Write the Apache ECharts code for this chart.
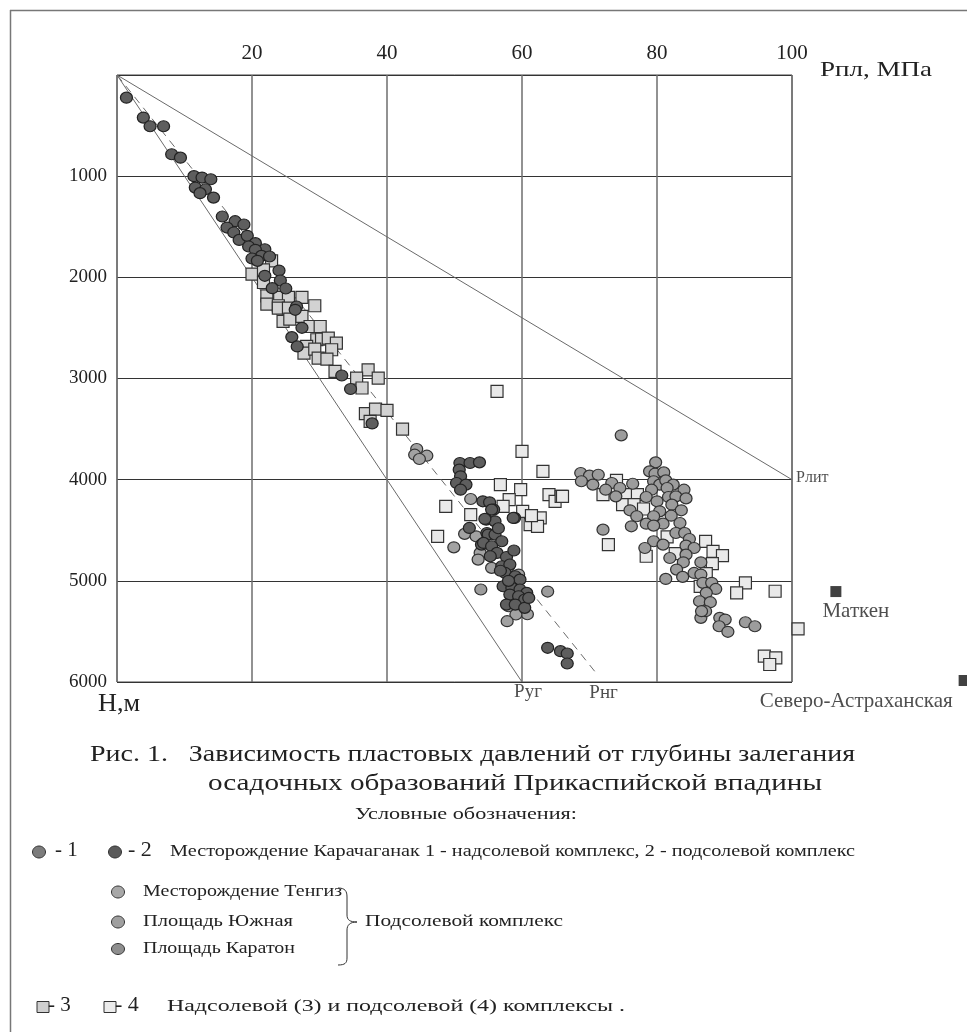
<!DOCTYPE html>
<html><head><meta charset="utf-8">
<script src="https://cdn.jsdelivr.net/npm/echarts@6.0.0/dist/echarts.min.js"></script>
<style>html,body{margin:0;padding:0;background:#fff}#c{width:967px;height:1032px}</style>
</head><body><div id="c"></div>
<script>
// ---- axis ticks ----
const xTicks = [20, 40, 60, 80, 100];
const yTicks = [1000, 2000, 3000, 4000, 5000, 6000];

// ---- reference lines [P, H] ----
const lineRug = [[0, 0], [60, 6000]];
const lineRng = [[0, 0], [71.2, 5930]];
const lineRlit = [[0, 0], [100, 4000]];

// ---- Karachaganak 1 (надсолевой) ----
const karach1 = [[1.4,224],[3.9,421],[4.9,507],[6.9,507],[8.1,783],[9.4,817],[11.4,1000],[12.6,1014],[13.9,1030],[11.6,1113],[13.1,1129],[12.3,1168],[14.3,1212],[15.6,1399],[17.5,1445],[18.8,1478],[16.3,1508],[17.3,1557],[18.1,1630],[19.3,1590],[20.5,1662],[19.5,1695],[21.9,1722],[20.5,1728],[21.4,1788],[22.6,1794],[20.0,1814],[20.8,1837],[24.0,1933],[21.9,1985],[24.2,2031],[23.0,2107],[25.0,2110],[26.6,2288],[26.4,2321],[27.4,2499],[25.9,2591],[26.7,2683],[33.3,2970],[34.6,3104],[37.8,3444]];
// ---- Karachaganak 2 (подсолевой) ----
const karach2 = [[50.8,3835],[52.3,3835],[53.7,3829],[50.7,3901],[50.9,3967],[50.3,4033],[51.7,4049],[50.9,4099],[54.2,4214],[55.2,4224],[55.8,4296],[58.9,4378],[52.2,4477],[54.7,4395],[56.0,4412],[54.8,4527],[54.0,4642],[55.5,4296],[54.5,4388],[58.7,4378],[55.0,4543],[56.0,4543],[57.0,4609],[54.3,4625],[55.5,4658],[56.3,4724],[57.7,4764],[55.3,4757],[57.0,4856],[58.2,4839],[57.5,4922],[59.0,4955],[59.7,4988],[57.2,5054],[58.5,5070],[59.7,5086],[60.7,5119],[58.2,5136],[59.5,5152],[60.4,5185],[57.7,5235],[59.0,5235],[60.4,5267],[61.0,5169],[56.5,4480],[58.0,5000],[56.8,4900],[58.8,4700],[63.8,5662],[65.7,5695],[66.7,5718],[66.7,5817]];
// ---- Tengiz ----
const tengiz = [[68.7,3934],[70.0,3960],[71.3,3951],[68.8,4016],[70.5,4049],[73.3,4033],[72.4,4099],[74.5,4082],[76.4,4040],[73.9,4165],[79.8,3829],[78.9,3918],[79.7,3941],[81.0,3928],[79.5,4016],[80.4,4049],[81.3,4007],[82.4,4049],[79.2,4099],[81.5,4082],[84.0,4099],[78.4,4171],[80.0,4214],[81.7,4171],[82.8,4165],[84.3,4185],[82.2,4247],[80.4,4313],[83.6,4303],[76.0,4303],[77.0,4362],[79.5,4362],[82.1,4356],[78.4,4435],[76.2,4461],[80.9,4435],[83.4,4428],[79.5,4454],[82.8,4527],[84.1,4527],[84.8,4586],[79.5,4609],[80.9,4642],[78.2,4675],[84.3,4652],[85.5,4675],[84.3,4741],[81.9,4774],[83.9,4817],[86.5,4817],[82.9,4889],[85.5,4922],[83.8,4961],[86.5,4938],[81.3,4981],[86.8,5020],[88.1,5020],[88.7,5080],[87.3,5119],[86.3,5202],[87.9,5211],[87.2,5300],[86.6,5300]];
// ---- Yuzhnaya ----
const yuzhnaya = [[44.4,3697],[45.9,3763],[44.1,3753],[44.8,3796],[52.4,4191],[51.5,4536],[53.2,4560],[49.9,4669],[53.8,4724],[53.5,4790],[55.5,4872],[58.0,4862],[59.5,4938],[58.0,5251],[59.5,5267],[60.8,5330],[59.1,5333],[57.8,5399]];
// ---- Karaton ----
const karaton = [[74.7,3562],[72.0,4494],[53.9,5086],[63.8,5106],[86.5,5366],[89.3,5366],[90.1,5383],[89.2,5449],[90.5,5504],[93.1,5409],[94.5,5449]];
// ---- squares 3 (надсолевой) ----
const sq3 = [[20.0,1968],[22.9,1837],[21.7,1926],[21.7,2051],[22.2,2183],[24.1,2199],[25.4,2199],[27.4,2199],[29.3,2281],[22.2,2265],[23.9,2281],[23.9,2305],[25.4,2305],[24.6,2436],[25.6,2413],[27.4,2386],[28.6,2486],[30.1,2486],[29.6,2617],[30.3,2610],[31.3,2601],[32.5,2650],[31.8,2716],[28.1,2683],[27.7,2749],[29.3,2709],[29.8,2798],[31.1,2808],[32.3,2930],[37.2,2914],[35.5,2996],[38.7,2996],[36.3,3094],[36.8,3348],[38.3,3302],[40.0,3315],[37.5,3424],[42.3,3500]];
// ---- squares 4 (подсолевой) ----
const sq4 = [[56.3,3128],[60.0,3721],[63.1,3918],[56.8,4049],[59.8,4099],[58.1,4198],[57.2,4264],[48.7,4264],[52.4,4346],[60.1,4313],[64.0,4148],[64.9,4214],[65.8,4165],[62.7,4378],[61.2,4444],[62.3,4461],[47.5,4560],[61.4,4356],[72.0,4148],[72.8,4642],[74.0,4007],[75.4,4148],[77.1,4148],[74.9,4247],[76.6,4247],[78.0,4290],[66.0,4165],[78.4,4757],[81.5,4566],[82.7,4731],[87.2,4609],[88.3,4708],[89.7,4751],[88.2,4830],[87.3,4928],[86.4,5054],[93.1,5020],[91.8,5119],[97.5,5103],[100.9,5475],[95.9,5745],[97.6,5761],[96.7,5827]];
// ---- named fields outside the grid ----
const fieldNames = ['Маткен', 'Северо-Астраханская'];
const fieldPoints = [[106.5, 5106], [125.5, 5985]];

const SERIF = '"Liberation Serif", "Times New Roman", serif';
const measureCtx = document.createElement('canvas').getContext('2d');
function tw(text, size) { measureCtx.font = size + 'px ' + SERIF; return measureCtx.measureText(text).width; }
// text stretched to a given width (the original uses expanded letter spacing)
function stext(text, x, y, size, width) {
  const s = width ? width / tw(text, size) : 1;
  return { type: 'text', x: x, y: y, scaleX: s,
    style: { text: text, x: 0, y: 0, font: size + 'px ' + SERIF, fill: '#222', textAlign: 'left', textVerticalAlign: 'middle' } };
}
function circ(cx, cy, rx, ry, fill) {
  return { type: 'ellipse', shape: { cx: cx, cy: cy, rx: rx, ry: ry }, style: { fill: fill, stroke: '#333', lineWidth: 1 } };
}
function sq(cx, cy, w, h, fill) {
  return { type: 'rect', shape: { x: cx - w / 2, y: cy - h / 2, width: w, height: h }, style: { fill: fill, stroke: '#333', lineWidth: 1 } };
}
function bz(x1, y1, c1x, c1y, c2x, c2y, x2, y2) {
  return { type: 'bezierCurve', shape: { x1: x1, y1: y1, cpx1: c1x, cpy1: c1y, cpx2: c2x, cpy2: c2y, x2: x2, y2: y2 }, style: { fill: null, stroke: '#333', lineWidth: 1 } };
}
function ln(x1, y1, x2, y2, color, w) {
  return { type: 'line', shape: { x1: x1, y1: y1, x2: x2, y2: y2 }, style: { stroke: color || '#333', lineWidth: w || 1 } };
}

const circleDark = { color: '#5e5e5e', borderColor: '#222', borderWidth: 1.2 };
const circleLight = { color: '#9c9c9c', borderColor: '#333', borderWidth: 1.2 };

function scat(name, data, symbol, size, style) {
  return { name: name, type: 'scatter', data: data, symbol: symbol, symbolSize: size, clip: false,
    itemStyle: Object.assign({ opacity: 1 }, style), z: 3, silent: true };
}
function refLine(data, dashed) {
  return { type: 'line', data: data, symbol: 'none', silent: true, z: 2,
    lineStyle: { color: '#6a6a6a', width: 1, type: dashed ? [8, 6] : 'solid' } };
}

const chart = echarts.init(document.getElementById('c'), null, { renderer: 'canvas' });
chart.setOption({
  animation: false,
  backgroundColor: '#fff',
  grid: { left: 117, top: 75, width: 675, height: 607, show: true, borderColor: '#444', borderWidth: 1, containLabel: false },
  xAxis: {
    type: 'value', position: 'top', min: 0, max: 100, interval: 20,
    axisLine: { show: false }, axisTick: { show: false },
    axisLabel: { margin: 11, fontFamily: SERIF, fontSize: 21, color: '#222',
      formatter: v => xTicks.indexOf(v) >= 0 ? String(v) : '' },
    splitLine: { show: true, lineStyle: { color: '#6e6e6e', width: 1.5 } }
  },
  yAxis: {
    type: 'value', inverse: true, min: 0, max: 6000, interval: 1000,
    axisLine: { show: false }, axisTick: { show: false },
    axisLabel: { margin: 10, fontFamily: SERIF, fontSize: 19, color: '#222',
      formatter: v => yTicks.indexOf(v) >= 0 ? String(v) : '' },
    splitLine: { show: true, lineStyle: { color: '#333', width: 1.2 } }
  },
  series: [
    refLine(lineRlit, false),
    refLine(lineRug, false),
    refLine(lineRng, true),
    scat('3', sq3, 'rect', 12, { color: '#d2d2d2', borderColor: '#333', borderWidth: 1.2 }),
    scat('4', sq4, 'rect', 12, { color: '#e9e9e9', borderColor: '#333', borderWidth: 1.2 }),
    scat('Karaton', karaton, 'circle', [12, 11], circleLight),
    scat('Tengiz', tengiz, 'circle', [12, 11], circleLight),
    scat('Yuzhnaya', yuzhnaya, 'circle', [12, 11], { color: '#a2a2a2', borderColor: '#333', borderWidth: 1.2 }),
    scat('1', karach1, 'circle', [12, 11], circleDark),
    scat('2', karach2, 'circle', [12, 11], circleDark),
    {
      type: 'scatter', clip: false, silent: true, symbol: 'rect', symbolSize: 11,
      itemStyle: { color: '#111' },
      data: [
        { value: fieldPoints[0], name: fieldNames[0], label: { show: true, formatter: fieldNames[0], position: 'bottom', distance: 4, offset: [20, 0], fontFamily: SERIF, fontSize: 21, color: '#222' } },
        { value: fieldPoints[1], name: fieldNames[1], label: { show: true, formatter: fieldNames[1], position: 'left', distance: 0, offset: [-6, 21], fontFamily: SERIF, fontSize: 21, color: '#222' } }
      ]
    },
    {
      type: 'scatter', clip: false, silent: true, symbolSize: 0,
      label: { show: true, fontFamily: SERIF, fontSize: 19, color: '#222' },
      data: [
        { value: lineRug[1], label: { formatter: 'Руг', position: 'bottom', distance: 0, offset: [6, 1] } },
        { value: lineRng[1], label: { formatter: 'Рнг', position: 'bottom', distance: 0, offset: [6, 9] } },
        { value: lineRlit[1], label: { formatter: 'Рлит', position: 'right', distance: 4, offset: [0, -2], fontSize: 16 } }
      ]
    }
  ],
  graphic: [
    ln(10, 10.5, 967, 10.5, '#777', 1.5),
    ln(10.5, 10, 10.5, 1032, '#777', 1.5),
    stext('Рпл, МПа', 820, 70, 22, 112),
    stext('Н,м', 98, 704, 25, 42),
    stext('Рис. 1.   Зависимость пластовых давлений от глубины залегания', 90, 755, 23, 765),
    stext('осадочных образований Прикаспийской впадины', 208, 784, 23, 614),
    stext('Условные обозначения:', 355, 815, 16, 222),
    circ(39, 852, 6.5, 6, '#7c7c7c'),
    stext('- 1', 55, 850, 21),
    circ(115, 852, 6.5, 6, '#5a5a5a'),
    stext('- 2', 128, 850, 22),
    stext('Месторождение Карачаганак 1 - надсолевой комплекс, 2 - подсолевой комплекс', 170, 852, 16, 685),
    circ(118, 892, 6.5, 6, '#a8a8a8'),
    stext('Месторождение Тенгиз', 143, 892, 16, 199),
    circ(118, 922, 6.5, 6, '#a0a0a0'),
    stext('Площадь Южная', 143, 922, 16, 150),
    circ(118, 949, 6.5, 5.5, '#8e8e8e'),
    stext('Площадь Каратон', 143, 949, 16, 152),
    bz(338, 888, 345, 888, 347, 891, 347, 897),
    ln(347, 897, 347, 915),
    bz(347, 915, 347, 920, 350, 922, 357, 922),
    bz(357, 922, 350, 922, 347, 925, 347, 930),
    ln(347, 930, 347, 958),
    bz(347, 958, 347, 963, 345, 965, 338, 965),
    stext('Подсолевой комплекс', 365, 922, 16, 198),
    sq(43, 1007, 12, 11, '#cfcfcf'),
    stext('- 3', 48, 1005, 21),
    sq(110, 1007, 12, 11, '#ececec'),
    stext('- 4', 115, 1005, 22),
    stext('Надсолевой (3) и подсолевой (4) комплексы .', 167, 1007, 16, 458)
  ]
});
</script>
</body></html>
